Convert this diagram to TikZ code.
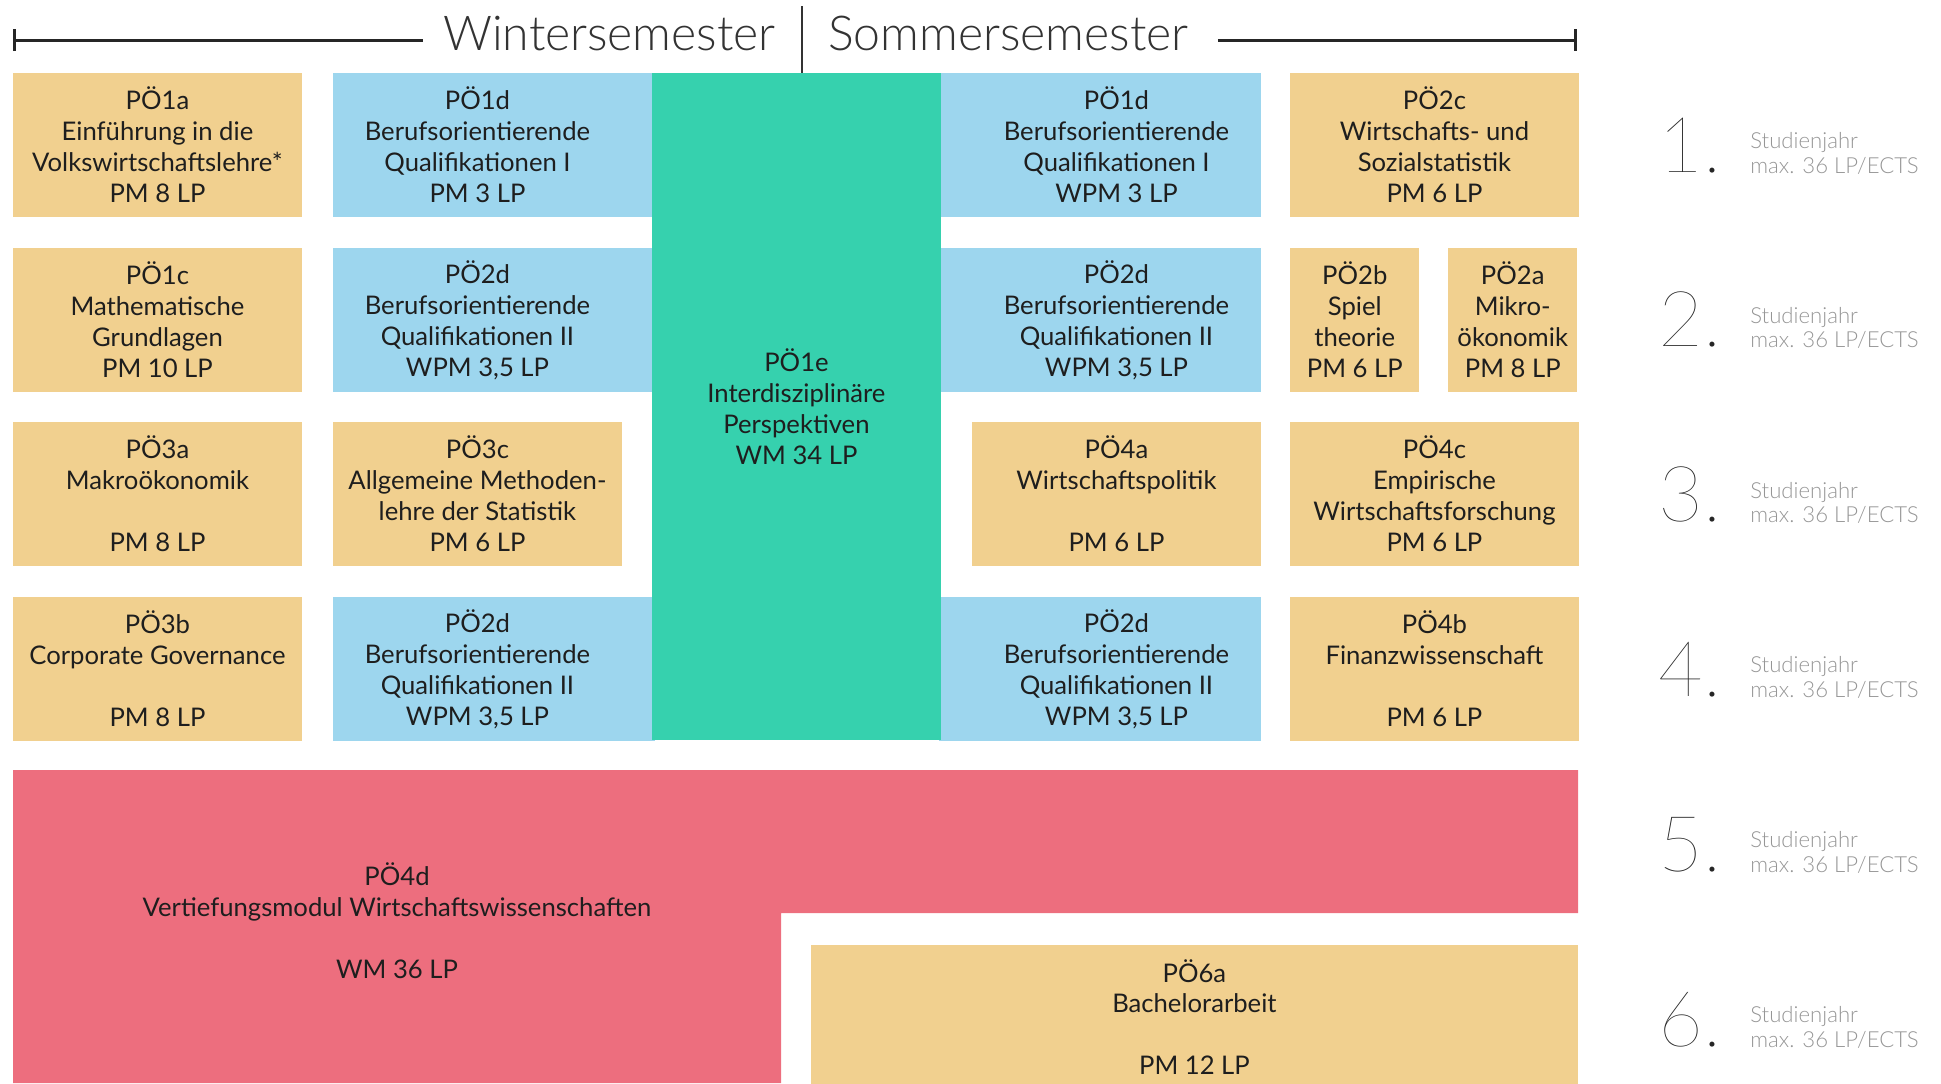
\documentclass[tikz,border=0pt]{standalone}
\usepackage{fontspec}
\setmainfont{Lato}
\newfontfamily\lightfont{Lato Light}
\newfontfamily\thinfont{Lato Thin}
\usetikzlibrary{positioning,arrows.meta}

\definecolor{modtan}{RGB}{241,208,143}
\definecolor{modblue}{RGB}{157,214,238}
\definecolor{modgreen}{RGB}{54,209,174}
\definecolor{modred}{RGB}{237,110,126}
\definecolor{textdark}{RGB}{30,30,30}
\definecolor{yeargray}{RGB}{150,150,150}

\tikzset{
  modbox/.style={inner sep=0pt, outer sep=0pt, align=center, text=textdark, anchor=north west,
    minimum width=5.78cm, minimum height=2.88cm, font=\fontsize{14.6}{17.6}\selectfont,
    execute at begin node=\rule{0pt}{0.6cm}},
  pmbox/.style={modbox, fill=modtan},
  wpmbox/.style={modbox, fill=modblue},
  halfbox/.style={minimum width=2.59cm},
  yearnum/.style={anchor=base, text=black!85, font=\thinfont\fontsize{44}{44}\selectfont},
  yeartext/.style={anchor=base west, inner sep=0pt, align=left, text=yeargray, font=\lightfont\fontsize{12.6}{14}\selectfont},
  semester/.style={inner sep=0pt, text=black!80, font=\lightfont\fontsize{27.4}{30}\selectfont},
  semline/.style={line width=0.06cm, black!85},
}

\begin{document}
\begin{tikzpicture}[x=0.02cm, y=-0.02cm]
  \useasboundingbox (0,0) rectangle (1941,1083);

  % header
  \coordinate (wsstart) at (13,40);
  \coordinate (ssend) at (1577,40);
  \coordinate (septop) at (802,6);
  \node[semester, anchor=base east] (ws) at (776,50) {Wintersemester};
  \node[semester, anchor=base west] (ss) at (828,50) {Sommersemester};
  \draw[semline, {Bar[width=0.44cm]}-, shorten >=0.4cm] (wsstart) -- (wsstart -| ws.west);
  \draw[semline, -{Bar[width=0.44cm]}, shorten <=0.58cm] (wsstart -| ss.east) -- (ssend);

  % 1. Studienjahr
  \node[pmbox] (p1a) at (13,73) {PÖ1a\\Einführung in die\\Volkswirtschaftslehre*\\PM 8 LP};
  \node[wpmbox] (p1dw) at (333,73) {PÖ1d\\Berufsorientierende\\Qualifikationen I\\PM 3 LP};
  \node[wpmbox] (p1ds) at (972,73) {PÖ1d\\Berufsorientierende\\Qualifikationen I\\WPM 3 LP};
  \node[pmbox] (p2c) at (1290,73) {PÖ2c\\Wirtschafts- und\\Sozialstatistik\\PM 6 LP};

  % 2. Studienjahr
  \node[pmbox] (p1c) at (13,248) {PÖ1c\\Mathematische\\Grundlagen\\PM 10 LP};
  \node[wpmbox] (p2dwa) at (333,248) {PÖ2d\\Berufsorientierende\\Qualifikationen II\\WPM 3,5 LP};
  \node[wpmbox] (p2dsa) at (972,248) {PÖ2d\\Berufsorientierende\\Qualifikationen II\\WPM 3,5 LP};
  \node[pmbox, halfbox] (p2b) at (1290,248) {PÖ2b\\Spiel\\theorie\\PM 6 LP};
  \node[pmbox, halfbox] (p2a) at (1448,248) {PÖ2a\\Mikro-\\ökonomik\\PM 8 LP};

  % 3. Studienjahr
  \node[pmbox] (p3a) at (13,422) {PÖ3a\\Makroökonomik\\~\\PM 8 LP};
  \node[pmbox] (p3c) at (333,422) {PÖ3c\\Allgemeine Methoden-\\lehre der Statistik\\PM 6 LP};
  \node[pmbox] (p4a) at (972,422) {PÖ4a\\Wirtschaftspolitik\\~\\PM 6 LP};
  \node[pmbox] (p4c) at (1290,422) {PÖ4c\\Empirische\\Wirtschaftsforschung\\PM 6 LP};

  % 4. Studienjahr
  \node[pmbox] (p3b) at (13,597) {PÖ3b\\Corporate Governance\\~\\PM 8 LP};
  \node[wpmbox] (p2dwb) at (333,597) {PÖ2d\\Berufsorientierende\\Qualifikationen II\\WPM 3,5 LP};
  \node[wpmbox] (p2dsb) at (972,597) {PÖ2d\\Berufsorientierende\\Qualifikationen II\\WPM 3,5 LP};
  \node[pmbox] (p4b) at (1290,597) {PÖ4b\\Finanzwissenschaft\\~\\PM 6 LP};

  % Wahlmodul ueber alle Semester
  \foreach \b in {p1dw,p2dwa,p2dwb}
    \fill[modblue] ([xshift=-0.05cm]\b.north east) rectangle ([xshift=0.05cm]\b.south east -| 652,0);
  \foreach \b in {p1ds,p2dsa,p2dsb}
    \fill[modblue] ([xshift=-0.05cm]\b.north west -| 941,0) rectangle ([xshift=0.05cm]\b.south west);
  \node[modbox, fill=modgreen, minimum height=13.34cm] (p1e) at (652,73) {PÖ1e\\Interdisziplinäre\\Perspektiven\\WM 34 LP};
  \draw[line width=0.03cm, black!80] (septop) -- (septop |- p1e.north);

  % 5./6. Studienjahr
  \fill[modred] (13,770) -- (1578,770) -- (1578,913) -- (781,913) -- (781,1083) -- (13,1083) -- cycle;
  \node[align=center, text=textdark, font=\fontsize{14.6}{17.6}\selectfont] (p4d) at (397,921)
    {PÖ4d\\Vertiefungsmodul Wirtschaftswissenschaften\\~\\WM 36 LP};
  \node[pmbox, minimum width=15.34cm] (p6a) at (811,945) {PÖ6a\\Bachelorarbeit\\~\\PM 12 LP};

  % Studienjahre
  \foreach \n in {1,...,6} {
    \pgfmathsetmacro\yc{145+(\n-1)*174.8}
    \node[yearnum] (yr\n) at (1690,\yc+27) {\n.};
    \node[yeartext] (yt\n) at (1750,\yc+28) {Studienjahr\\max. 36 LP/ECTS};
  }
\end{tikzpicture}
\end{document}
